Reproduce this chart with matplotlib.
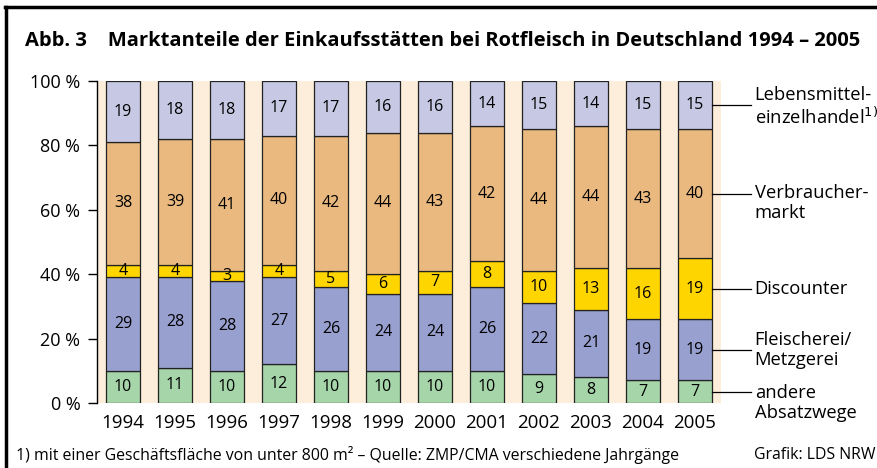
import numpy as np
import matplotlib
matplotlib.use("Agg")
import matplotlib.pyplot as plt
from matplotlib.lines import Line2D

plt.rcParams['font.family'] = ['Open Sans', 'DejaVu Sans']

years = ['1994', '1995', '1996', '1997', '1998', '1999', '2000', '2001', '2002', '2003', '2004', '2005']
andere = [10, 11, 10, 12, 10, 10, 10, 10, 9, 8, 7, 7]
fleischerei = [29, 28, 28, 27, 26, 24, 24, 26, 22, 21, 19, 19]
discounter = [4, 4, 3, 4, 5, 6, 7, 8, 10, 13, 16, 19]
verbraucher = [38, 39, 41, 40, 42, 44, 43, 42, 44, 44, 43, 40]
lebensmittel = [19, 18, 18, 17, 17, 16, 16, 14, 15, 14, 15, 15]

series = [andere, fleischerei, discounter, verbraucher, lebensmittel]
names = ['andere\nAbsatzwege', 'Fleischerei/\nMetzgerei', 'Discounter',
         'Verbraucher-\nmarkt', 'Lebensmittel-\neinzelhandel$^{1)}$']
colors = ['#a5d5a9', '#98a0d0', '#ffd500', '#eab97f', '#c6c8e4']
# shift of each right-hand label below its leader line, in points
label_shift = [8, 0, 0, 7, 1.5]

fig = plt.figure(figsize=(8.77, 4.68), dpi=100)
ax = fig.add_axes([97 / 877, 1 - 403 / 468, 624 / 877, 322 / 468])
ax.set_facecolor('#fdeedb')

x = np.arange(len(years))
bottom = np.zeros(len(years))
for vals, col in zip(series, colors):
    vals = np.array(vals)
    ax.bar(x, vals, bottom=bottom, width=0.655, color=col, edgecolor='#222222', linewidth=0.9)
    for xi, b, v in zip(x, bottom, vals):
        ax.text(xi, b + v / 2, str(v), ha='center', va='center', fontsize=11.5)
    bottom += vals

ax.set_xlim(-0.5, len(years) - 0.5)
ax.set_ylim(0, 100)
ax.set_yticks([0, 20, 40, 60, 80, 100])
ax.set_yticklabels(['0 %', '20 %', '40 %', '60 %', '80 %', '100 %'], fontsize=13)
ax.set_xticks(x)
ax.set_xticklabels(years, fontsize=13.5)
ax.tick_params(axis='x', length=0, pad=8)
ax.tick_params(axis='y', length=6.5, width=1, pad=5.5)
for s in ['top', 'right', 'bottom']:
    ax.spines[s].set_visible(False)
ax.spines['left'].set_linewidth(1)

# right-hand labels with leader lines
last = len(years) - 1
cum = 0
xr = last + 0.655 / 2
for vals, name, sh in zip(series, names, label_shift):
    mid = cum + vals[last] / 2
    cum += vals[last]
    ax.plot([xr, xr + 0.74], [mid, mid], color='black', lw=0.9, clip_on=False)
    ax.annotate(name, (xr + 0.82, mid), xytext=(0, -sh), textcoords='offset points',
                ha='left', va='center', fontsize=13.2, linespacing=1.15,
                annotation_clip=False)

fig.text(25 / 877, 1 - 41 / 468,
         'Abb. 3    Marktanteile der Einkaufsstätten bei Rotfleisch in Deutschland 1994 – 2005',
         fontsize=14.5, fontweight='bold', ha='left', va='center')
fig.text(16 / 877, 1 - 455 / 468,
         '1) mit einer Geschäftsfläche von unter 800 m² – Quelle: ZMP/CMA verschiedene Jahrgänge',
         fontsize=11.4, ha='left', va='center')
fig.text(876 / 877, 1 - 455 / 468, 'Grafik: LDS NRW', fontsize=11.4, ha='right', va='center')

# frame
fig.add_artist(Line2D([5 / 877, 1], [1 - 7 / 468, 1 - 7 / 468], color='black', lw=2.5,
                      transform=fig.transFigure))
fig.add_artist(Line2D([6 / 877, 6 / 877], [0, 1 - 7 / 468], color='black', lw=2.5,
                      transform=fig.transFigure))

fig.savefig('out.png', dpi=100)
